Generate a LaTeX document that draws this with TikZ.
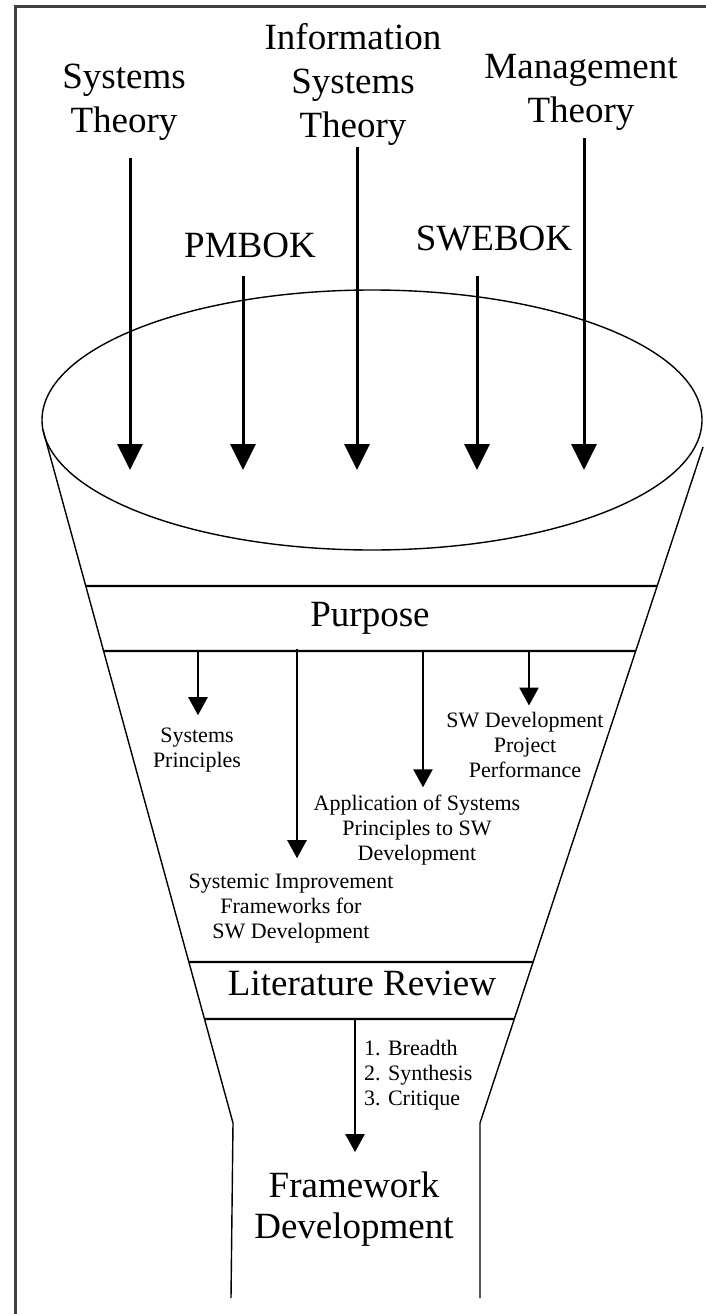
\documentclass[tikz,border=0pt]{standalone}
\usepackage{fontspec}
\setmainfont{Liberation Serif}
\usetikzlibrary{arrows.meta, positioning, calc}

\tikzset{
  biglabel/.style={font=\fontsize{37}{44}\selectfont, align=center, inner sep=0pt},
  smalllabel/.style={font=\fontsize{22}{25}\selectfont, align=center, inner sep=0pt},
  bigarrow/.style={line width=3pt, -{Triangle[width=25pt,length=26pt]}},
  smallarrow/.style={line width=2.4pt, -{Triangle[width=19pt,length=18pt]}},
  funnel/.style={line width=1.4pt},
  band/.style={line width=2.4pt}
}

\begin{document}
\begin{tikzpicture}[x=1pt, y=-1pt]
\useasboundingbox (0,0) rectangle (706,1314);

%//frame
\draw[line width=3pt, black!75] (706,7) -- (15,7) -- (15,1314);

%//theories on top (base = last line)
\node[biglabel, anchor=base] (st)  at (124,132) {Systems\\Theory};
\node[biglabel, anchor=base] (ist) at (353,137) {Information\\Systems\\Theory};
\node[biglabel, anchor=base] (mt)  at (581,122) {Management\\Theory};
\node[biglabel, anchor=base] (pm)  at (250,257) {PMBOK};
\node[biglabel, anchor=base] (sw)  at (494,250) {SWEBOK};

%//funnel
\draw[funnel] (372,420) ellipse [x radius=330, y radius=130];

\coordinate (lt) at (43,430);
\coordinate (lb) at (233,1123);
\coordinate (rt) at (703,447);
\coordinate (rb) at (480,1123);

\draw[funnel] (lt) -- (lb) -- (231,1298);
\draw[funnel] (rt) -- (rb) -- (480,1298);

%//bands
\foreach \y in {586, 651, 962, 1019}
\draw[band] ($(lt)!{(\y-430)/693}!(lb)$) -- ($(rt)!{(\y-447)/676}!(rb)$);

%//arrows into the funnel
\coordinate (t1) at (130,470);
\coordinate (t2) at (243,470);
\coordinate (t3) at (357,470);
\coordinate (t4) at (477,470);
\coordinate (t5) at (584,470);

\draw[bigarrow, shorten <=18pt] (st.south -| t1) -- (t1);
\draw[bigarrow, shorten <=18pt] (pm.south -| t2) -- (t2);
\draw[bigarrow, shorten <=2pt] (ist.south -| t3) -- (t3);
\draw[bigarrow, shorten <=25pt] (sw.south -| t4) -- (t4);
\draw[bigarrow, shorten <=8pt] (mt.south -| t5) -- (t5);

%//purpose
\node[biglabel, anchor=base] (purpose) at (370,626) {Purpose};

\node[smalllabel, anchor=base] (sp)  at (197,767) {Systems\\Principles};
\node[smalllabel, anchor=base] (swp) at (525,777) {SW Development\\Project\\Performance};
\node[smalllabel, anchor=base] (app) at (417,860) {Application of Systems\\Principles to SW\\Development};
\node[smalllabel, anchor=base] (sif) at (291,938) {Systemic Improvement\\Frameworks for\\SW Development};

\coordinate (p1) at (198,651);
\coordinate (p2) at (297,649);
\coordinate (p3) at (423,651);
\coordinate (p4) at (529,651);

\draw[smallarrow, shorten >=12pt] (p1) -- (sp.north -| p1);
\draw[smallarrow, shorten >=15pt] (p2) -- (sif.north -| p2);
\draw[smallarrow, shorten >=7pt] (p3) -- (app.north -| p3);
\draw[smallarrow, shorten >=6pt] (p4) -- (swp.north -| p4);

%//literature review
\node[biglabel, anchor=base] (lit) at (362,995) {Literature Review};

\node[smalllabel, align=left, anchor=base west] (steps) at (364,1105) {1. Breadth\\2. Synthesis\\3. Critique};

\node[biglabel, font=\fontsize{37}{41}\selectfont, anchor=base] (fd) at (354,1238) {Framework\\Development};

\coordinate (l1) at (355,1019);
\draw[smallarrow, shorten >=19pt] (l1) -- (fd.north -| l1);

\end{tikzpicture}
\end{document}
